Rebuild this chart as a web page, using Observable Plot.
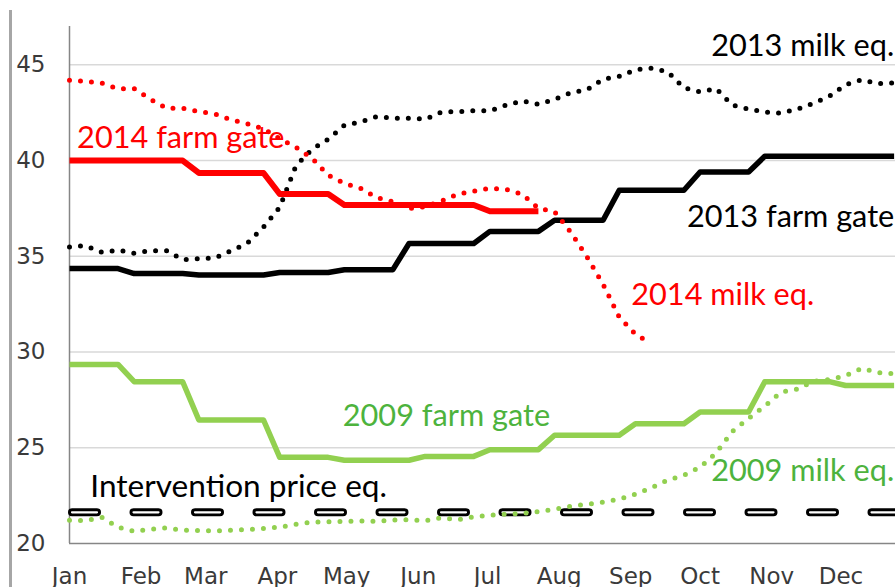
<!DOCTYPE html>
<html><head><meta charset="utf-8">
<script src="https://cdn.jsdelivr.net/npm/d3@7"></script>
<script src="https://cdn.jsdelivr.net/npm/@observablehq/plot@0.6"></script>
<style>
html,body{margin:0;padding:0;background:#fff;}
#wrap{position:relative;width:895px;height:587px;overflow:hidden;background:#fff;}
#chart{position:absolute;left:0;top:0;}
#frame{position:absolute;left:9px;top:10px;width:2.5px;height:577px;background:#a6a6a6;}
</style></head><body>
<div id="wrap"><div id="chart"></div><div id="frame"></div></div>
<script>
// ---- data ----
const monthLabels = ["Jan","Feb","Mar","Apr","May","Jun","Jul","Aug","Sep","Oct","Nov","Dec"];
const monthStartDays = [0,31,59,90,120,151,181,212,243,273,304,334];
const yTicks = [20,25,30,35,40,45];

// weekly values (week 0 = first week of January)
const farmGate2009 = [29.35,29.35,29.35,29.35, 28.45,28.45,28.45,28.45, 26.45,26.45,26.45,26.45,26.45,
  24.5,24.5,24.5,24.5, 24.35,24.35,24.35,24.35,24.35, 24.55,24.55,24.55,24.55, 24.9,24.9,24.9,24.9,
  25.65,25.65,25.65,25.65,25.65, 26.25,26.25,26.25,26.25, 26.87,26.87,26.87,26.87,
  28.45,28.45,28.45,28.45,28.45, 28.25,28.25,28.25,28.25];
const milkEq2009 = [21.22,21.19,21.37,20.85,20.64,20.75,20.81,20.7,20.67,20.66,
  20.7,20.73,20.79,20.85,21.01,21.11,21.13,21.16,21.18,21.16,
  21.22,21.24,21.19,21.34,21.24,21.4,21.48,21.53,21.58,21.66,
  21.79,21.95,22.04,22.16,22.31,22.57,22.91,23.31,23.57,23.98,
  24.74,25.86,26.54,27.17,27.9,28.06,28.47,28.56,28.77,29.15,
  28.92,28.87];
const farmGate2013 = [34.36,34.36,34.36,34.36, 34.1,34.1,34.1,34.1, 34.02,34.02,34.02,34.02,34.02,
  34.15,34.15,34.15,34.15, 34.3,34.3,34.3,34.3, 35.67,35.67,35.67,35.67,35.67, 36.3,36.3,36.3,36.3,
  36.88,36.88,36.88,36.88, 38.45,38.45,38.45,38.45,38.45, 39.4,39.4,39.4,39.4,
  40.22,40.22,40.22,40.22,40.22,40.22,40.22,40.22,40.22];
const milkEq2013 = [35.49,35.55,35.21,35.32,35.16,35.29,35.29,34.82,34.87,34.91,
  35.29,35.68,36.53,37.56,39.72,40.59,41.11,41.84,42.02,42.29,
  42.21,42.21,42.16,42.53,42.55,42.6,42.6,42.89,43.11,42.94,
  43.2,43.54,43.7,44.25,44.4,44.74,44.82,44.64,43.8,43.59,
  43.75,42.89,42.69,42.53,42.48,42.68,42.99,43.36,43.96,44.22,
  44.01,44.06];
const farmGate2014 = [40,40,40,40,40,40,40,40, 39.35,39.35,39.35,39.35,39.35,
  38.25,38.25,38.25,38.25, 37.68,37.68,37.68,37.68,37.68,37.68,37.68,37.68,37.68,
  37.35,37.35,37.35,37.35];
const milkEq2014 = [44.19,44.14,44.04,43.75,43.75,43.2,42.73,42.73,42.56,42.43,
  42.13,41.92,41.66,41.14,40.69,40.12,39.23,38.81,38.55,38.06,
  37.85,37.49,37.59,37.89,38.24,38.4,38.55,38.5,38.24,37.51,
  37.33,36.26,34.98,33.54,31.82,30.93,30.42];
const interventionPriceEq = 21.63;

const labelTexts = ["2013 milk eq.","2014 farm gate","2013 farm gate","2014 milk eq.","2009 farm gate","Intervention price eq.","2009 milk eq."];
const labelDays = [277.8, 3.3, 267.3, 243.2, 118.3, 9.0, 277.8];
const labelValues = [45.48, 40.63, 36.55, 32.43, 26.16, 22.42, 23.29];
const labelColors = ["#000000","#ff0000","#000000","#ff0000","#4db33d","#000000","#4db33d"];

// ---- chart ----
const rows = vals => vals.map((v, i) => ({day: i * 7, value: v}));
const labels = labelTexts.map((t, i) => ({text: t, day: labelDays[i], value: labelValues[i], color: labelColors[i]}));

const red = "#ff0000", green = "#92d050", black = "#000000";
const dotted = {strokeDasharray: "0,11", strokeLinecap: "round", strokeWidth: 5};
const solid = {strokeWidth: 5.5, strokeLinejoin: "round", strokeLinecap: "butt"};

const chart = Plot.plot({
  width: 895, height: 587,
  marginLeft: 69, marginRight: 0, marginTop: 26, marginBottom: 44,
  style: {fontFamily: "DejaVu Sans", fontSize: "23px", color: "#3a3a3a", background: "white", overflow: "visible"},
  x: {domain: [0, 357.6], ticks: monthStartDays, tickFormat: d => monthLabels[monthStartDays.indexOf(d)], tickSize: 0, tickPadding: 24, label: null},
  y: {domain: [20, 47], ticks: yTicks, tickSize: 0, tickPadding: 24, label: null},
  marks: [
    Plot.ruleY(yTicks.filter(d => d > 20), {stroke: "#d9d9d9", strokeWidth: 1.5}),
    Plot.ruleY([20], {stroke: "#868686", strokeWidth: 1.5}),
    Plot.ruleX([0], {y1: 20, y2: 47, stroke: "#868686", strokeWidth: 1.5}),
    Plot.ruleY([interventionPriceEq], {stroke: black, strokeWidth: 8, strokeDasharray: "25,36.5", strokeDashoffset: 58.5, strokeLinecap: "round"}),
    Plot.ruleY([interventionPriceEq], {stroke: "white", strokeWidth: 2.2, strokeDasharray: "25,36.5", strokeDashoffset: 58.5, strokeLinecap: "round"}),
    Plot.line(rows(milkEq2009), {x: "day", y: "value", stroke: green, ...dotted}),
    Plot.line(rows(farmGate2009), {x: "day", y: "value", stroke: green, ...solid}),
    Plot.line(rows(farmGate2013), {x: "day", y: "value", stroke: black, ...solid}),
    Plot.line(rows(milkEq2013), {x: "day", y: "value", stroke: black, ...dotted}),
    Plot.line(rows(farmGate2014), {x: "day", y: "value", stroke: red, ...solid, strokeWidth: 6}),
    Plot.line(rows(milkEq2014), {x: "day", y: "value", stroke: red, ...dotted}),
    Plot.text(labels.filter(d => !d.text.startsWith("Intervention")), {x: "day", y: "value", text: "text", fill: "color", textAnchor: "start", lineAnchor: "bottom", fontFamily: "Lato", fontSize: 30.7}),
    Plot.text(labels.filter(d => d.text.startsWith("Intervention")), {x: "day", y: "value", text: "text", fill: "color", textAnchor: "start", lineAnchor: "bottom", fontFamily: "Lato", fontSize: 31.6})
  ]
});
document.getElementById("chart").appendChild(chart);
</script>
</body></html>
